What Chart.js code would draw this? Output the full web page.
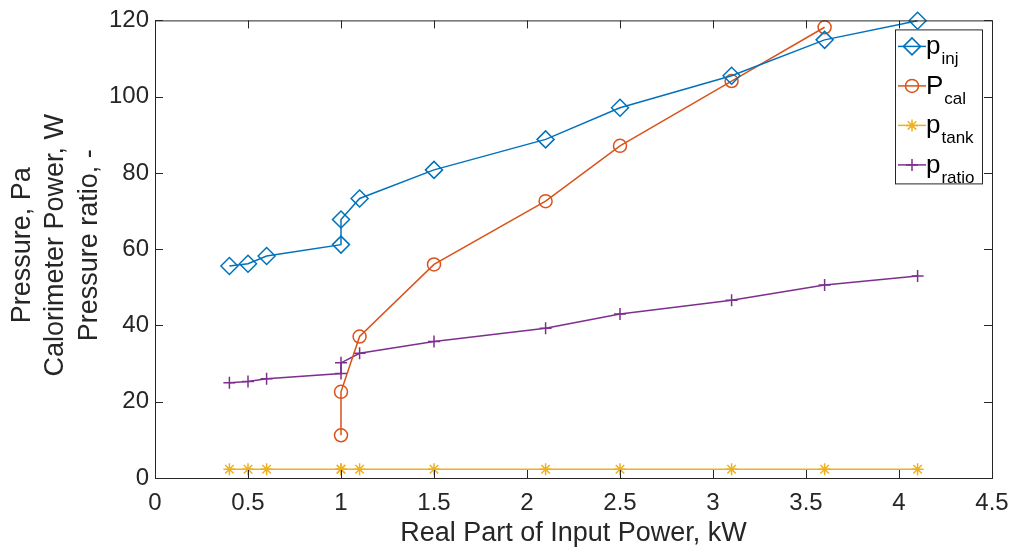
<!DOCTYPE html>
<html>
<head>
<meta charset="utf-8">
<script src="https://cdn.jsdelivr.net/npm/chart.js@4.4.0/dist/chart.umd.min.js"></script>
<style>
    html, body { margin: 0; padding: 0; background: #fff; }
    #wrap { width: 1011px; height: 550px; }
</style>
</head>
<body>
<div id="wrap"><canvas id="chart"></canvas></div>
<script>
// Real part of input power, kW (x) for each series
const xInj = [0.4, 0.5, 0.6, 1.0, 1.0, 1.1, 1.5, 2.1, 2.5, 3.1, 3.6, 4.1];
const pInj = [55.6, 56.2, 58.2, 61.2, 67.8, 73.3, 80.8, 88.8, 97.1, 105.5, 114.9, 119.9];

const xCal = [1.0, 1.0, 1.1, 1.5, 2.1, 2.5, 3.1, 3.6];
const pCal = [11.2, 22.6, 37.1, 56.0, 72.6, 87.1, 104.1, 118.2];

const xTank = [0.4, 0.5, 0.6, 1.0, 1.0, 1.1, 1.5, 2.1, 2.5, 3.1, 3.6, 4.1];
const pTank = [2.3, 2.3, 2.3, 2.3, 2.3, 2.3, 2.3, 2.3, 2.3, 2.3, 2.3, 2.3];

const xRatio = [0.4, 0.5, 0.6, 1.0, 1.0, 1.1, 1.5, 2.1, 2.5, 3.1, 3.6, 4.1];
const pRatio = [25.0, 25.3, 26.0, 27.4, 30.2, 32.7, 35.8, 39.3, 43.0, 46.6, 50.6, 53.0];

const xTicks = [0, 0.5, 1, 1.5, 2, 2.5, 3, 3.5, 4, 4.5];
const yTicks = [0, 20, 40, 60, 80, 100, 120];

const legendNames = [['p', 'inj'], ['P', 'cal'], ['p', 'tank'], ['p', 'ratio']];
const yTitleLines = ['Pressure, Pa', 'Calorimeter Power, W', 'Pressure ratio, -'];

const FONT = '"Liberation Sans", Arial, Helvetica, sans-serif';
const AXIS = '#262626';

function pts(xs, ys) {
    return xs.map((x, i) => ({ x: x, y: ys[i] }));
}

function series(data, color, style, radius) {
    return {
        data: data,
        borderColor: color,
        backgroundColor: 'rgba(0,0,0,0)',
        borderWidth: 1.5,
        pointStyle: style,
        pointRadius: radius,
        pointHoverRadius: radius,
        pointBorderColor: color,
        pointBackgroundColor: 'rgba(0,0,0,0)',
        pointBorderWidth: 1.5,
        tension: 0,
        clip: false
    };
}

// axes box with inward ticks, like MATLAB
const boxPlugin = {
    id: 'box',
    afterDatasetsDraw(chart) {
        const { ctx, chartArea: a, scales } = chart;
        ctx.save();
        ctx.strokeStyle = AXIS;
        ctx.lineWidth = 1;
        ctx.strokeRect(a.left + 0.5, a.top + 0.5, a.right - a.left, a.bottom - a.top);
        ctx.beginPath();
        xTicks.forEach(v => {
            const px = Math.round(scales.x.getPixelForValue(v)) + 0.5;
            ctx.moveTo(px, a.bottom); ctx.lineTo(px, a.bottom - 8);
            ctx.moveTo(px, a.top); ctx.lineTo(px, a.top + 8);
        });
        yTicks.forEach(v => {
            const py = Math.round(scales.y.getPixelForValue(v)) + 0.5;
            ctx.moveTo(a.left, py); ctx.lineTo(a.left + 8, py);
            ctx.moveTo(a.right, py); ctx.lineTo(a.right - 8, py);
        });
        ctx.stroke();
        ctx.restore();
    },
    afterDraw(chart) {
        const { ctx, chartArea: a } = chart;
        // y axis title (three lines)
        ctx.save();
        ctx.fillStyle = AXIS;
        ctx.font = '27px ' + FONT;
        ctx.textAlign = 'center';
        ctx.textBaseline = 'middle';
        ctx.translate(a.left - 99, (a.top + a.bottom) / 2 - 4);
        ctx.rotate(-Math.PI / 2);
        yTitleLines.forEach((t, i) => ctx.fillText(t, 0, (i - 1) * 33.5));
        ctx.restore();

        // legend
        const bx = a.right - 97, by = a.top + 9, bw = 87, bh = 154;
        ctx.save();
        ctx.fillStyle = '#fff';
        ctx.fillRect(bx, by, bw, bh);
        ctx.strokeStyle = AXIS;
        ctx.lineWidth = 1;
        ctx.strokeRect(bx + 0.5, by + 0.5, bw, bh);
        chart.data.datasets.forEach((ds, i) => {
            const cy = by + 17 + i * 39.5;
            ctx.strokeStyle = ds.borderColor;
            ctx.fillStyle = 'rgba(0,0,0,0)';
            ctx.lineWidth = 1.5;
            ctx.beginPath();
            ctx.moveTo(bx + 3, cy);
            ctx.lineTo(bx + 31, cy);
            ctx.stroke();
            Chart.helpers.drawPoint(ctx, {
                pointStyle: ds.pointStyle,
                radius: ds.pointRadius,
                rotation: 0,
                borderWidth: 1.5
            }, bx + 17, cy);
            const [main, sub] = legendNames[i];
            ctx.fillStyle = '#000';
            ctx.textAlign = 'left';
            ctx.textBaseline = 'alphabetic';
            ctx.font = '26px ' + FONT;
            ctx.fillText(main, bx + 31, cy + 8);
            const w = ctx.measureText(main).width;
            ctx.font = '17px ' + FONT;
            ctx.fillText(sub, bx + 32 + w, cy + 18);
        });
        ctx.restore();
    }
};

const ctx = document.getElementById('chart').getContext('2d');
new Chart(ctx, {
    type: 'line',
    data: {
        datasets: [
            series(pts(xInj, pInj), '#0072BD', 'rectRot', 8.5),
            series(pts(xCal, pCal), '#D95319', 'circle', 6.5),
            series(pts(xTank, pTank), '#EDB120', 'star', 6),
            series(pts(xRatio, pRatio), '#7E2F8E', 'cross', 6)
        ]
    },
    options: {
        responsive: true,
        maintainAspectRatio: false,
        animation: false,
        events: [],
        layout: { padding: { top: 18, right: 19, left: 0, bottom: 0 } },
        plugins: {
            legend: { display: false },
            tooltip: { enabled: false }
        },
        scales: {
            x: {
                type: 'linear',
                min: 0,
                max: 4.5,
                afterFit: s => { s.height = 72; s.paddingLeft = 0; s.paddingRight = 0; },
                afterBuildTicks: s => { s.ticks = xTicks.map(v => ({ value: v })); },
                grid: { display: false, drawTicks: false },
                border: { display: false },
                ticks: {
                    color: AXIS,
                    font: { family: FONT, size: 24 },
                    padding: 11,
                    maxRotation: 0,
                    callback: v => String(v)
                },
                title: {
                    display: true,
                    text: 'Real Part of Input Power, kW',
                    color: AXIS,
                    font: { family: FONT, size: 27 },
                    padding: { top: 0, bottom: 0 }
                }
            },
            y: {
                type: 'linear',
                min: 0,
                max: 120,
                afterFit: s => { s.width = 155; },
                afterBuildTicks: s => { s.ticks = yTicks.map(v => ({ value: v })); },
                grid: { display: false, drawTicks: false },
                border: { display: false },
                ticks: {
                    color: AXIS,
                    font: { family: FONT, size: 24 },
                    padding: 6,
                    callback: v => String(v)
                }
            }
        }
    },
    plugins: [boxPlugin]
});
</script>
</body>
</html>
